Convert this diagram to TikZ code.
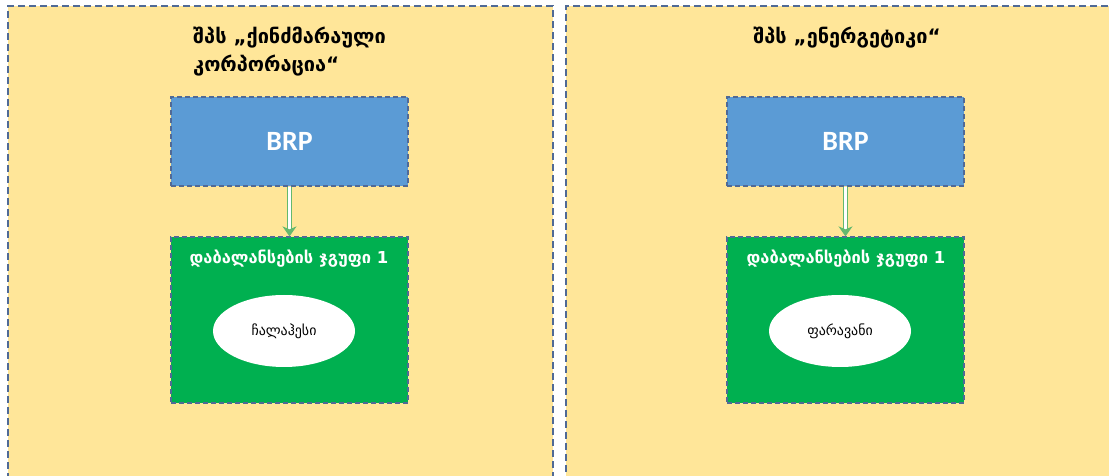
\documentclass[tikz,border=0pt]{standalone}
\usepackage{fontspec}
\setmainfont{DejaVu Sans}
\newfontfamily\brpfont{Carlito}
\usetikzlibrary{positioning,arrows.meta,shapes.geometric}
\definecolor{panelyellow}{RGB}{255,230,153}
\definecolor{edgeblue}{RGB}{80,106,150}
\definecolor{brpblue}{RGB}{91,155,213}
\definecolor{groupgreen}{RGB}{0,176,80}
\definecolor{arrowgreen}{RGB}{100,185,110}

\begin{document}
\begin{tikzpicture}[x=1bp,y=-1bp,
  panel/.style={draw=edgeblue,dash pattern=on 7bp off 4bp,line width=1.6bp,fill=panelyellow,inner sep=0pt},
  title/.style={align=left,font=\fontsize{20}{28}\selectfont\bfseries,inner sep=0pt},
  brp/.style={draw=edgeblue,dash pattern=on 5bp off 3bp,line width=1.2bp,fill=brpblue,minimum width=237bp,minimum height=89bp,
    text=white,font=\brpfont\fontsize{28}{30}\selectfont\bfseries},
  group/.style={draw=edgeblue,dash pattern=on 5bp off 3bp,line width=1.2bp,fill=groupgreen,minimum width=237bp,minimum height=166bp},
  grouplabel/.style={text=white,font=\fontsize{16.5}{18}\selectfont\bfseries,inner sep=0pt},
  plant/.style={ellipse,fill=white,minimum width=142bp,minimum height=72bp,inner sep=0pt,
    font=\fontsize{14}{16}\selectfont},
  flow/.style={draw=arrowgreen,double=white,double distance=3.5bp,line width=1.2bp,
    -{Stealth[length=10bp,width=14bp,inset=3bp]}}]
\useasboundingbox (0,0) rectangle (1109,476);
\node[panel,minimum width=545bp,minimum height=500bp] (panelA) at (280.5,256) {};
\node[panel,minimum width=560bp,minimum height=500bp] (panelB) at (846,256) {};
\node[title,anchor=north west] (titleA) at (193,27) {შპს „ქინძმარაული\\კორპორაცია“};
\node[title,anchor=north] (titleB) at (847,27) {შპს „ენერგეტიკი“};
\node[brp] (brpA) at (289.5,141.5) {BRP};
\node[brp] (brpB) at (845.5,141.5) {BRP};
\node[group] (grpA) at (289.5,320) {};
\node[group] (grpB) at (845.5,320) {};
\node[grouplabel] (labA) at (289,259) {დაბალანსების ჯგუფი 1};
\node[grouplabel] (labB) at (846,259) {დაბალანსების ჯგუფი 1};
\node[plant] (plantA) at (284,331) {ჩალაჰესი};
\node[plant] (plantB) at (840,331) {ფარავანი};
\draw[flow] (brpA.south) -- (grpA.north);
\draw[flow] (brpB.south) -- (grpB.north);
\end{tikzpicture}
\end{document}
